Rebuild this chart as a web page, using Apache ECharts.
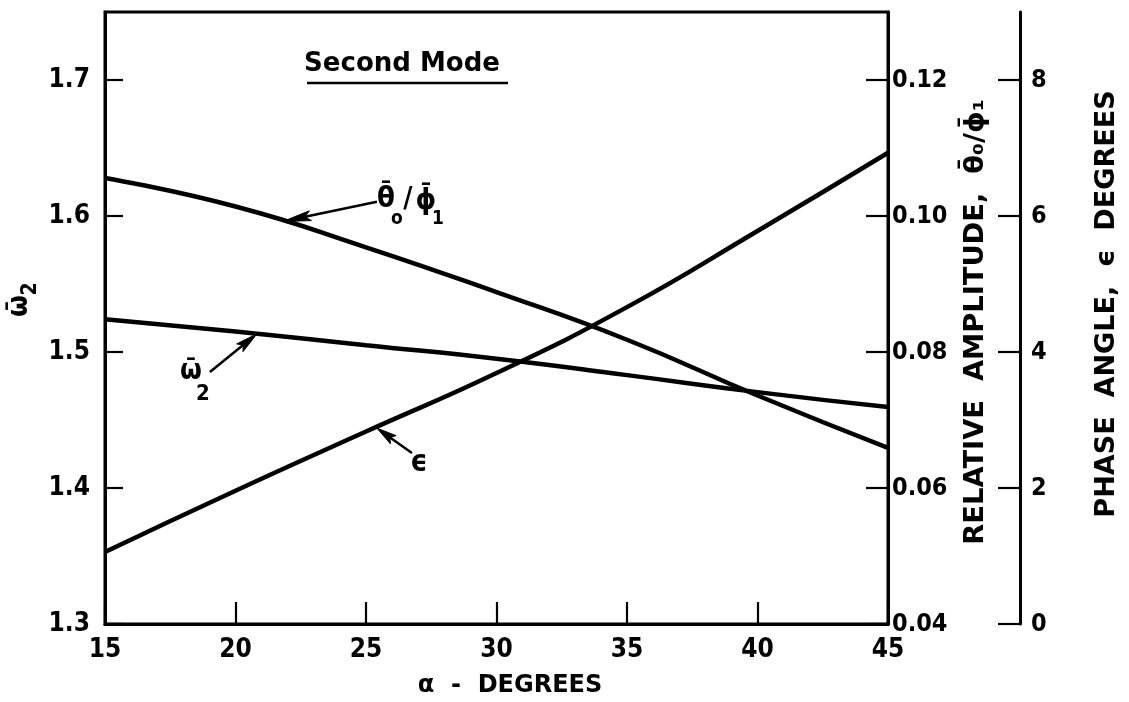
<!DOCTYPE html>
<html>
<head>
<meta charset="utf-8">
<title>Second Mode</title>
<script src="https://cdn.jsdelivr.net/npm/echarts@6/dist/echarts.min.js"></script>
<style>
  html, body { margin: 0; padding: 0; background: #fff; }
  #chart { width: 1129px; height: 702px; }
</style>
</head>
<body>
<div id="chart"></div>
<script>
// Second mode: natural frequency, relative amplitude and phase angle against alpha.

// Abscissa (alpha, degrees)
const alphaDeg = [15, 20, 25, 30, 35, 40, 45];

// Frequency parameter, left axis
const omegaBar2 = [1.524, 1.515, 1.505, 1.495, 1.483, 1.4705, 1.4595];
// Relative amplitude theta0/phi1, inner right axis
const ampRatio = [0.1056, 0.1014, 0.0954, 0.0888, 0.0818, 0.0736, 0.0659];
// Phase angle epsilon in degrees, outer right axis
const phaseEps = [1.06, 1.96, 2.83, 3.69, 4.66, 5.78, 6.93];

// Tick values
const xTicks = [15, 20, 25, 30, 35, 40, 45];
const omegaTicks = [1.3, 1.4, 1.5, 1.6, 1.7];
const ampTicks = [0.04, 0.06, 0.08, 0.10, 0.12];
const phaseTicks = [0, 2, 4, 6, 8];

// Leader arrows for the curve labels: [tail, tip] in each curve's own units
const ampArrow = [[25.42, 0.1021], [21.82, 0.0992]];
const omegaArrow = [[19.02, 1.4853], [20.82, 1.5133]];
const epsArrow = [[26.76, 2.515], [25.42, 2.88]];

// Texts
const titleText = 'Second Mode';
const xName = 'α  -  DEGREES';
const ampName = 'RELATIVE  AMPLITUDE,  θ\u0304₀/ϕ\u0304₁';
const phaseName = 'PHASE  ANGLE,  ϵ  DEGREES';
const omegaSym = 'ω\u0304';
const thetaSym = 'θ\u0304';
const phiSym = 'ϕ\u0304';
const epsSym = 'ϵ';

const FONT = "'DejaVu Sans Condensed', 'DejaVu Sans', sans-serif";   // numerals, curve labels
const WIDE = "'DejaVu Sans', sans-serif";                            // title and axis names
const WEIGHT = 'bold';
const INK = '#000';

const chart = echarts.init(document.getElementById('chart'), null, { renderer: 'canvas' });

const pairs = (xs, ys) => xs.map((x, i) => [x, ys[i]]);

function valueAxisCommon(ticks, fmt, tickLen, labelMargin, fontSize) {
  return {
    type: 'value',
    splitLine: { show: false },
    axisLine: { show: true, onZero: false, lineStyle: { color: INK, width: 3 } },
    axisTick: {
      show: true, inside: true, length: tickLen, customValues: ticks,
      lineStyle: { color: INK, width: 2.2 }
    },
    axisLabel: {
      show: true, customValues: ticks, margin: labelMargin, formatter: fmt,
      color: INK, fontFamily: FONT, fontWeight: WEIGHT, fontSize: fontSize
    }
  };
}

const curveStyle = { color: INK, width: 4.5 };

const option = {
  animation: false,
  backgroundColor: '#fff',
  grid: {
    left: 105, right: 241, top: 12, bottom: 78,
    show: true, borderColor: INK, borderWidth: 3, backgroundColor: 'transparent'
  },
  xAxis: Object.assign(valueAxisCommon(xTicks, v => String(v), 22, 13, 26), {
    min: 15, max: 45, position: 'bottom'
  }),
  yAxis: [
    Object.assign(valueAxisCommon(omegaTicks, v => v.toFixed(1), 18, 15, 26), {
      min: 1.3, max: 1.75, position: 'left'
    }),
    Object.assign(valueAxisCommon(ampTicks, v => v.toFixed(2), 22, 4, 25), {
      min: 0.04, max: 0.13, position: 'right'
    }),
    Object.assign(valueAxisCommon(phaseTicks, v => String(v), 22, 11, 25), {
      min: 0, max: 9, position: 'right', offset: 132
    })
  ],
  series: [
    { name: 'omega2', type: 'line', yAxisIndex: 0, data: pairs(alphaDeg, omegaBar2),
      symbol: 'none', smooth: 0.5, lineStyle: curveStyle, silent: true },
    { name: 'theta0/phi1', type: 'line', yAxisIndex: 1, data: pairs(alphaDeg, ampRatio),
      symbol: 'none', smooth: 0.5, lineStyle: curveStyle, silent: true },
    { name: 'epsilon', type: 'line', yAxisIndex: 2, data: pairs(alphaDeg, phaseEps),
      symbol: 'none', smooth: 0.5, lineStyle: curveStyle, silent: true }
  ]
};

chart.setOption(option);

// ---- annotations placed from data coordinates ----
const px = (i, p) => chart.convertToPixel({ seriesIndex: i }, p);

function arrow(i, pts, headLen, halfW) {
  const t = px(i, pts[0]);
  const h = px(i, pts[1]);
  const dx = h[0] - t[0], dy = h[1] - t[1];
  const len = Math.hypot(dx, dy);
  const ux = dx / len, uy = dy / len;
  const nx = -uy, ny = ux;
  const notch = headLen * 0.2;
  const bx = h[0] - ux * headLen, by = h[1] - uy * headLen;
  return [
    { type: 'line', silent: true,
      shape: { x1: t[0], y1: t[1], x2: h[0] - ux * headLen * 0.5, y2: h[1] - uy * headLen * 0.5 },
      style: { stroke: INK, lineWidth: 2.5 } },
    { type: 'polygon', silent: true,
      shape: { points: [
        [h[0], h[1]],
        [bx + nx * halfW, by + ny * halfW],
        [h[0] - ux * (headLen - notch), h[1] - uy * (headLen - notch)],
        [bx - nx * halfW, by - ny * halfW]
      ] },
      style: { fill: INK, stroke: INK, lineWidth: 1 } }
  ];
}

function txt(x, y, text, size, extra, family) {
  return Object.assign({
    type: 'text', x: x, y: y, silent: true,
    style: {
      text: text, fill: INK, font: WEIGHT + ' ' + size + 'px ' + (family || FONT),
      align: 'center', verticalAlign: 'middle',
      textAlign: 'center', textVerticalAlign: 'middle'
    }
  }, extra || {});
}

const ampTail = px(1, ampArrow[0]);
const omegaTail = px(0, omegaArrow[0]);
const epsTail = px(2, epsArrow[0]);

chart.setOption({
  graphic: [
    // title with underline
    txt(402, 64, titleText, 26, null, WIDE),
    { type: 'line', silent: true, shape: { x1: 307, y1: 83, x2: 508, y2: 83 },
      style: { stroke: INK, lineWidth: 2.5 } },
    // axis names
    txt(510, 686, xName, 24, null, WIDE),
    { type: 'group', x: 23, y: 300, rotation: Math.PI / 2, children: [
      txt(-6, -3, omegaSym, 28),
      txt(11, 8, '2', 21)
    ] },
    txt(976, 322, ampName, 26, { rotation: Math.PI / 2, scaleX: 1.05 }, WIDE),
    txt(1107, 304, phaseName, 26, { rotation: Math.PI / 2, scaleX: 1.04 }, WIDE),
    // curve labels
    { type: 'group', x: ampTail[0], y: ampTail[1], children: [
      txt(9, -2, thetaSym, 29),
      txt(20, 17, 'o', 19),
      txt(31, -2, '/', 28),
      txt(49, 0, phiSym, 29),
      txt(61, 17, '1', 19)
    ] },
    { type: 'group', x: omegaTail[0], y: omegaTail[1], children: [
      txt(-19, 0, omegaSym, 28),
      txt(-7, 22, '2', 22)
    ] },
    txt(epsTail[0] + 7, epsTail[1] + 10, epsSym, 30),
    // leader arrows
    ...arrow(1, ampArrow, 28, 5),
    ...arrow(0, omegaArrow, 22, 5),
    ...arrow(2, epsArrow, 20, 5)
  ]
});
</script>
</body>
</html>
